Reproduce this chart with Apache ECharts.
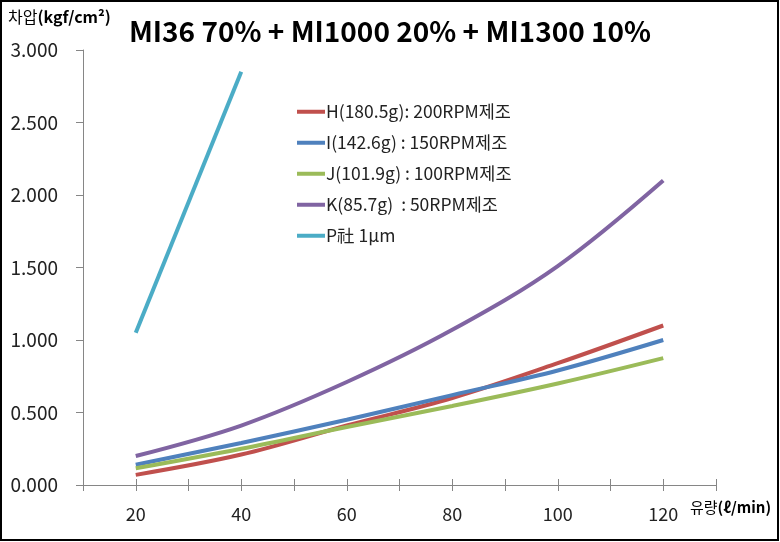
<!DOCTYPE html>
<html>
<head>
<meta charset="utf-8">
<script src="https://cdn.jsdelivr.net/npm/echarts@6/dist/echarts.min.js"></script>
<style>
html,body{margin:0;padding:0;background:#fff;}
#c{width:780px;height:542px;}
</style>
</head>
<body>
<div id="c"></div>
<script>
// ---- data ----
const xValues = [20, 40, 60, 80, 100, 120];
const seriesNames = [
  'H(180.5g): 200RPM제조',
  'I(142.6g) : 150RPM제조',
  'J(101.9g) : 100RPM제조',
  'K(85.7g)  : 50RPM제조',
  'P社 1μm'
];
const H = [0.07, 0.21, 0.41, 0.60, 0.84, 1.10];
const I = [0.14, 0.29, 0.45, 0.62, 0.79, 1.00];
const J = [0.115, 0.25, 0.40, 0.545, 0.70, 0.875];
const K = [0.20, 0.41, 0.71, 1.07, 1.51, 2.10];
const P = [1.05, 2.85];
const colors = ['#C0504D', '#4F81BD', '#9BBB59', '#8064A2', '#4BACC6'];
const titleText = 'MI36 70% + MI1000 20% + MI1300 10%';

const valuesList = [H, I, J, K, P];
const FONT = '"Noto Sans CJK KR", "Open Sans", sans-serif';

const chart = echarts.init(document.getElementById('c'));
const series = valuesList.map((vals, i) => ({
  name: seriesNames[i],
  type: 'line',
  xAxisIndex: 0,
  smooth: 0.35,
  showSymbol: false,
  symbol: 'none',
  lineStyle: { width: 4, color: colors[i] },
  itemStyle: { color: colors[i] },
  data: vals.map((v, k) => [xValues[k], v]),
  z: 3
}));

const option = {
  animation: false,
  backgroundColor: '#fff',
  textStyle: { fontFamily: FONT },
  title: {
    text: titleText,
    left: 'center',
    top: 12,
    textStyle: { fontSize: 28, fontWeight: 'bold', color: '#000', fontFamily: FONT }
  },
  grid: { left: 83, right: 64, top: 50, bottom: 57, containLabel: false },
  legend: {
    orient: 'vertical',
    left: 292,
    top: 98,
    itemWidth: 28,
    itemHeight: 4,
    itemGap: 13.5,
    icon: 'rect',
    textStyle: { fontSize: 17.5, color: '#222', padding: [0, 0, 0, -4], fontFamily: FONT },
    data: seriesNames
  },
  xAxis: [{
    type: 'value',
    min: 10, max: 130, interval: 10,
    axisLine: { show: true, lineStyle: { color: '#868686', width: 1 } },
    axisTick: { show: true, length: 6, lineStyle: { color: '#868686' } },
    axisLabel: {
      fontSize: 18, color: '#222', margin: 20, fontFamily: FONT,
      formatter: v => (v % 20 === 0 ? String(v) : '')
    },
    splitLine: { show: false }
  }, {
    type: 'value',
    position: 'bottom',
    min: 10, max: 130, interval: 10,
    axisLine: { show: false },
    axisTick: { show: true, inside: true, length: 6, lineStyle: { color: '#868686' } },
    axisLabel: { show: false },
    splitLine: { show: false }
  }],
  yAxis: {
    type: 'value',
    min: 0, max: 3, interval: 0.5,
    axisLine: { show: true, lineStyle: { color: '#868686', width: 1 } },
    axisTick: { show: true, length: 7, lineStyle: { color: '#868686' } },
    axisLabel: { fontSize: 19, color: '#222', margin: 25, fontFamily: FONT, formatter: v => v.toFixed(3) },
    splitLine: { show: false }
  },
  graphic: [
    { type: 'rect', shape: { x: 1, y: 1, width: 777, height: 539 }, style: { fill: 'none', stroke: '#000', lineWidth: 2 }, z: 10, silent: true },
    {
      type: 'text', left: 8, top: 9,
      style: {
        text: '{a|차압}{b|(kgf/cm²)}',
        rich: {
          a: { fontSize: 16, color: '#000', fontFamily: FONT },
          b: { fontSize: 16, color: '#000', fontWeight: 'bold', fontFamily: FONT }
        }
      }
    },
    {
      type: 'text', left: 690, top: 500,
      style: {
        text: '{a|유량}{b|(ℓ/min)}',
        rich: {
          a: { fontSize: 15, color: '#000', fontFamily: FONT },
          b: { fontSize: 15, color: '#000', fontWeight: 'bold', fontFamily: FONT }
        }
      }
    }
  ],
  series: series
};
chart.setOption(option);
</script>
</body>
</html>
